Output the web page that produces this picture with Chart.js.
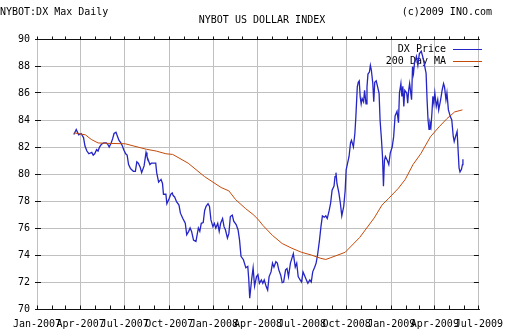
<!DOCTYPE html>
<html>
<head>
<meta charset="utf-8">
<script src="https://cdn.jsdelivr.net/npm/chart.js@4/dist/chart.umd.min.js"></script>
<style>
  html, body { margin: 0; padding: 0; background: #fff; }
  canvas { display: block; }
</style>
</head>
<body>
<canvas id="dxChart" width="512" height="336"></canvas>
<script>
// dias contados a partir de 01/01/2007
const priceDays = [
  76, 81, 86, 91, 96, 99, 103, 107, 113, 116, 119, 123, 126, 129, 133, 138, 143, 146, 149, 153,
  156, 159, 163, 166, 169, 173, 176, 179, 183, 186, 189, 193, 196, 199, 203, 206, 209, 213, 216, 221,
  225, 227, 230, 233, 236, 241, 245, 247, 251, 256, 259, 261, 266,
  268, 273, 276, 279, 281, 284, 288, 293, 296, 301, 306, 309, 313, 316, 319, 323, 328, 333, 336, 339,
  343, 346, 349, 353, 356, 359, 363, 366, 369, 373, 376, 379, 383, 386, 389, 393, 396, 399, 403, 406,
  411, 415, 418, 421, 426, 431, 435, 437, 439, 443, 446, 449, 453, 456,
  459, 463, 466, 469, 473, 476, 479, 483, 486, 489, 493, 496, 499, 503, 506, 509, 513, 516, 519, 523,
  526, 529, 533, 536, 539, 543, 546, 549, 553, 556, 559, 563, 566, 569, 573, 576, 579, 583, 586, 589,
  593, 596, 599, 603,
  606, 609, 613, 615, 617, 619, 623, 626, 629, 633, 636, 638, 641, 644, 647, 649, 653, 656, 658, 661,
  663, 665, 667, 669, 671, 674, 676, 679, 681, 683, 686, 688, 690, 693, 695, 697, 700, 703, 706, 708,
  711, 713, 715, 717, 719, 723, 726, 729, 733, 736,
  739, 743, 746, 748, 751, 753, 755, 757, 759, 763, 765, 767, 769, 773, 775, 777, 779, 783, 786, 789,
  793, 796, 799, 803, 805, 807, 809, 811, 813, 815, 817, 819, 821, 824, 827, 829, 833, 836, 839, 841,
  844, 846, 849, 853, 856, 859, 861, 864, 867, 869, 871, 873, 876, 878, 879
];
const priceValues = [
  82.93, 83.3, 82.9, 83.0, 82.7, 82.07, 81.7, 81.5, 81.6, 81.4, 81.5, 81.8, 81.7, 82.0, 82.2, 82.3, 82.3, 82.2, 82.0, 82.3,
  82.6, 83.0, 83.1, 82.8, 82.5, 82.3, 82.1, 81.8, 81.5, 81.4, 80.7, 80.4, 80.3, 80.2, 80.2, 80.9, 80.8, 80.5, 80.1, 80.6,
  81.6, 81.3, 81.0, 80.7, 80.8, 80.8, 80.8, 80.1, 79.4, 79.6, 79.3, 78.5, 78.5,
  77.8, 78.2, 78.5, 78.6, 78.4, 78.3, 77.95, 77.7, 77.1, 76.7, 76.35, 75.5, 75.75, 76.0, 75.75, 75.1, 75.0, 76.0, 75.75, 76.35,
  76.4, 77.3, 77.6, 77.8, 77.6, 76.6, 76.1, 76.35, 76.0, 76.35, 75.75, 76.35, 76.7, 76.1, 75.85, 75.25, 75.6, 76.85, 76.95, 76.5,
  76.25, 75.85, 75.1, 73.9, 73.65, 73.05, 73.15, 72.2, 70.8, 72.2, 73.05, 71.7, 72.4, 72.55,
  71.9, 72.15, 71.9, 72.15, 71.66, 71.4, 72.4, 72.75, 73.4, 73.1, 73.5, 73.4, 72.9, 72.5, 71.95, 72.0, 72.9, 73.0, 72.4, 73.4,
  73.75, 74.1, 73.1, 73.4, 72.4, 72.15, 72.0, 72.75, 72.4, 72.15, 71.9, 72.15, 72.0, 72.75, 73.1, 73.4, 74.0, 75.1, 76.1, 76.9,
  76.8, 76.9, 76.7, 77.3,
  77.85, 78.8, 79.1, 79.8, 80.1, 79.3, 78.6, 77.85, 76.9, 77.6, 78.8, 80.3, 80.8, 81.3, 82.3, 82.5, 82.0, 83.0, 84.2, 86.45,
  86.8, 86.9, 85.7, 85.2, 85.6, 85.35, 86.2, 85.2, 86.45, 87.4, 87.55, 88.05, 87.7, 86.7, 85.35, 86.8, 86.9, 86.45, 85.95, 84.0,
  82.5, 81.3, 79.1, 81.0, 81.3, 81.0, 80.7, 81.55, 82.0, 82.75,
  84.3, 84.65, 83.8, 86.0, 86.7, 85.75, 86.5, 85.0, 86.2, 86.0, 85.25, 86.2, 86.7, 85.5, 87.95, 87.45, 88.2, 88.7, 88.05, 88.9,
  89.1, 88.7, 88.2, 87.45, 85.5, 84.0, 83.3, 83.8, 83.5, 84.5, 85.75, 85.25, 86.0, 85.0, 85.5, 84.75, 85.5, 86.2, 86.7, 86.45,
  85.5, 86.0, 84.75, 84.25, 84.0, 82.8, 82.4, 82.8, 83.15, 81.8, 80.45, 80.15, 80.35, 80.7, 81.1
];
const maDays = [
  76, 100, 112, 126, 146, 182, 200, 226, 246, 266, 280, 312, 346, 380, 396, 410, 430, 446, 456, 466,
  486, 506, 526, 546, 566, 586, 596, 606, 636, 666, 696, 712, 726, 746, 760, 776, 792, 812, 830, 846,
  862, 878
];
const maValues = [
  83.05, 82.9, 82.56, 82.3, 82.27, 82.24, 82.07, 81.83, 81.7, 81.5, 81.45, 80.8, 79.8, 79.0, 78.75, 78.1, 77.45, 77.0, 76.65, 76.2,
  75.45, 74.85, 74.5, 74.2, 74.0, 73.75, 73.67, 73.8, 74.2, 75.3, 76.75, 77.7, 78.2, 78.95, 79.6, 80.7, 81.5, 82.76, 83.5, 84.1,
  84.6, 84.75
];
const quarterLabels = ['Jan-2007', 'Apr-2007', 'Jul-2007', 'Oct-2007', 'Jan-2008', 'Apr-2008',
  'Jul-2008', 'Oct-2008', 'Jan-2009', 'Apr-2009', 'Jul-2009'];
const seriesNames = ['DX Price', '200 Day MA'];
const seriesColors = ['#2525c6', '#c44a0a'];

// um tick por mês, rótulo só no início de cada trimestre
const dayOf = m => (Date.UTC(2007, m, 1) - Date.UTC(2007, 0, 1)) / 86400000;
const monthTicks = [];
const tickLabels = {};
for (let m = 0; m <= 30; m++) {
  const d = dayOf(m);
  monthTicks.push(d);
  if (m % 3 === 0) tickLabels[d] = quarterLabels[m / 3];
}

const font = { family: "'DejaVu Sans Mono', monospace", size: 10 };
const align = p => Math.round(p - 0.5) + 0.5;

// moldura, marcas, legenda e textos do topo
const frame = {
  id: 'frame',
  beforeDatasetsDraw(chart) {
    const { ctx, chartArea: a, scales: { x, y } } = chart;
    const top = align(a.top), bot = align(a.bottom);
    ctx.save();
    ctx.strokeStyle = '#111';
    ctx.lineWidth = 1;
    ctx.beginPath();
    ctx.moveTo(a.left, top); ctx.lineTo(a.right + 1, top);
    ctx.moveTo(a.left, bot); ctx.lineTo(a.right + 1, bot);
    x.ticks.forEach(t => {
      const px = align(x.getPixelForValue(t.value));
      ctx.moveTo(px, top - 3); ctx.lineTo(px, top);
      ctx.moveTo(px, bot - 4); ctx.lineTo(px, bot);
    });
    y.ticks.forEach(t => {
      const py = align(y.getPixelForValue(t.value));
      ctx.moveTo(a.left - 2, py); ctx.lineTo(a.left + 4, py);
      ctx.moveTo(a.right - 5, py); ctx.lineTo(a.right, py);
    });
    ctx.stroke();

    ctx.font = "10px 'DejaVu Sans Mono', monospace";
    ctx.fillStyle = '#000';
    ctx.textAlign = 'right';
    ctx.textBaseline = 'middle';
    seriesNames.forEach((name, i) => {
      const ly = 49 + i * 12;
      ctx.fillText(name, 446, ly);
      ctx.strokeStyle = seriesColors[i];
      ctx.beginPath();
      ctx.moveTo(453, ly + 0.5); ctx.lineTo(482, ly + 0.5);
      ctx.stroke();
    });
    ctx.restore();
  },
  afterDraw(chart) {
    const { ctx } = chart;
    ctx.save();
    ctx.font = "10px 'DejaVu Sans Mono', monospace";
    ctx.fillStyle = '#000';
    ctx.textBaseline = 'alphabetic';
    ctx.textAlign = 'left';
    ctx.fillText('NYBOT:DX Max Daily', 0, 15);
    ctx.textAlign = 'right';
    ctx.fillText('(c)2009 INO.com', 492, 15);
    ctx.textAlign = 'center';
    ctx.fillText('NYBOT US DOLLAR INDEX', 262, 23);
    ctx.restore();
  }
};

const ctx = document.getElementById('dxChart').getContext('2d');
new Chart(ctx, {
  type: 'line',
  data: {
    datasets: [{
      label: seriesNames[0],
      data: priceDays.map((d, i) => ({ x: d, y: priceValues[i] })),
      borderColor: seriesColors[0],
      borderWidth: 1.3,
      pointRadius: 0,
      order: 1
    }, {
      label: seriesNames[1],
      data: maDays.map((d, i) => ({ x: d, y: maValues[i] })),
      borderColor: seriesColors[1],
      borderWidth: 1,
      pointRadius: 0,
      order: 0
    }]
  },
  options: {
    responsive: false,
    animation: false,
    devicePixelRatio: 1,
    layout: { autoPadding: false, padding: { top: 39, right: 19, left: 0, bottom: 0 } },
    plugins: {
      legend: { display: false },
      tooltip: { enabled: false }
    },
    scales: {
      x: {
        type: 'linear',
        min: 0,
        max: monthTicks[monthTicks.length - 1],
        afterBuildTicks: s => { s.ticks = monthTicks.map(v => ({ value: v })); },
        afterFit: s => { s.height = 27; },
        grid: { color: c => (c.tick && tickLabels[c.tick.value]) ? '#c0c0c0' : 'rgba(0,0,0,0)', drawTicks: false },
        border: { display: false },
        ticks: { autoSkip: false, maxRotation: 0, padding: 9, color: '#000', font, callback: v => tickLabels[v] || '' }
      },
      y: {
        min: 70,
        max: 90,
        afterFit: s => { s.width = 37; },
        grid: { color: '#c0c0c0', drawTicks: false },
        border: { display: false },
        ticks: { stepSize: 2, padding: 7, color: '#000', font }
      }
    }
  },
  plugins: [frame]
});
</script>
</body>
</html>
